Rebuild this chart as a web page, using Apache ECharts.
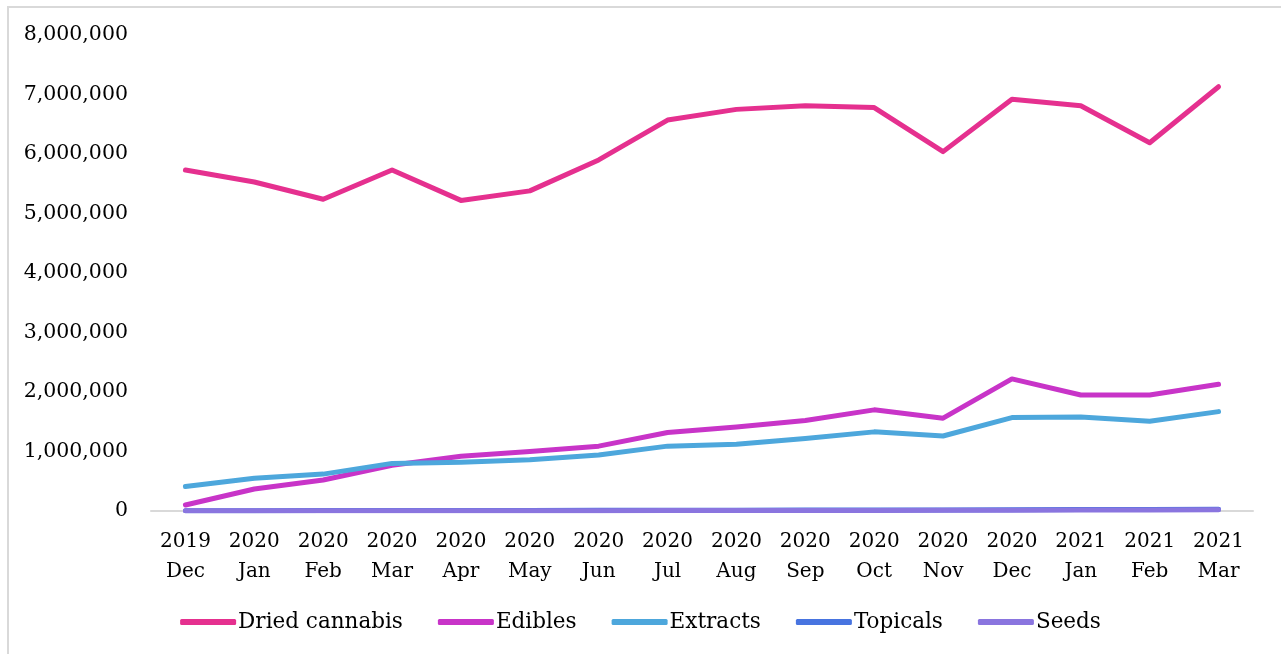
<!DOCTYPE html>
<html><head><meta charset="utf-8">
<script src="https://cdn.jsdelivr.net/npm/echarts@6/dist/echarts.min.js"></script>
<style>
html,body{margin:0;padding:0;background:#fff;}
#frame{position:absolute;left:7px;top:6px;width:1290px;height:670px;border:2px solid #d9d9d9;box-sizing:border-box;}
#c{position:absolute;left:0;top:0;width:1281px;height:654px;}
</style></head>
<body>
<div id="frame"></div>
<div id="c"></div>
<script>
var categories = ["2019\nDec","2020\nJan","2020\nFeb","2020\nMar","2020\nApr","2020\nMay","2020\nJun","2020\nJul","2020\nAug","2020\nSep","2020\nOct","2020\nNov","2020\nDec","2021\nJan","2021\nFeb","2021\nMar"];
var driedCannabis = [5730000,5530000,5240000,5730000,5220000,5380000,5900000,6570000,6750000,6810000,6780000,6040000,6920000,6810000,6190000,7130000];
var edibles = [100000,370000,520000,770000,920000,1000000,1090000,1320000,1410000,1520000,1700000,1560000,2220000,1950000,1950000,2130000];
var extracts = [410000,550000,620000,800000,820000,860000,940000,1090000,1120000,1220000,1330000,1260000,1570000,1580000,1510000,1670000];
var topicals = [5000,6000,7000,8000,9000,10000,11000,13000,14000,15000,16000,17000,22000,24000,25000,28000];
var seeds = [3000,3500,4000,4500,5000,5500,6000,7000,8000,9000,10000,11000,14000,15000,16000,19000];
var yTicks = {min:0, max:8000000, interval:1000000};

var FONT = "DejaVu Serif";
var chart = echarts.init(document.getElementById('c'));
function ser(name, data, color){
  return {name:name, type:'line', data:data, symbol:'none', smooth:false,
    lineStyle:{width:5, color:color, cap:'round', join:'round'}, itemStyle:{color:color}};
}
chart.setOption({
  animation:false,
  textStyle:{fontFamily:FONT},
  grid:{left:151, right:28, top:35, bottom:143},
  xAxis:{type:'category', data:categories, boundaryGap:true,
    axisLine:{lineStyle:{color:'#d9d9d9', width:2}}, axisTick:{show:false},
    axisLabel:{color:'#000', fontFamily:FONT, fontSize:20, lineHeight:30, margin:16, interval:0}},
  yAxis:{type:'value', min:yTicks.min, max:yTicks.max, interval:yTicks.interval,
    splitLine:{show:false}, axisLine:{show:false}, axisTick:{show:false},
    axisLabel:{color:'#000', fontFamily:FONT, fontSize:20.5, margin:23, padding:[4,0,0,0],
      formatter:function(v){return v.toLocaleString('en-US');}}},
  legend:{bottom:16, left:'center', itemWidth:56, itemHeight:6, itemGap:35,
    icon:'roundRect',
    textStyle:{color:'#000', fontFamily:FONT, fontSize:21.5, padding:[0,0,0,-3]},
    data:['Dried cannabis','Edibles','Extracts','Topicals','Seeds']},
  series:[
    ser('Dried cannabis', driedCannabis, '#E5308F'),
    ser('Edibles', edibles, '#C834C8'),
    ser('Extracts', extracts, '#4DA7DC'),
    ser('Topicals', topicals, '#4874E0'),
    ser('Seeds', seeds, '#8A75DF')
  ]
});
</script>
</body></html>
